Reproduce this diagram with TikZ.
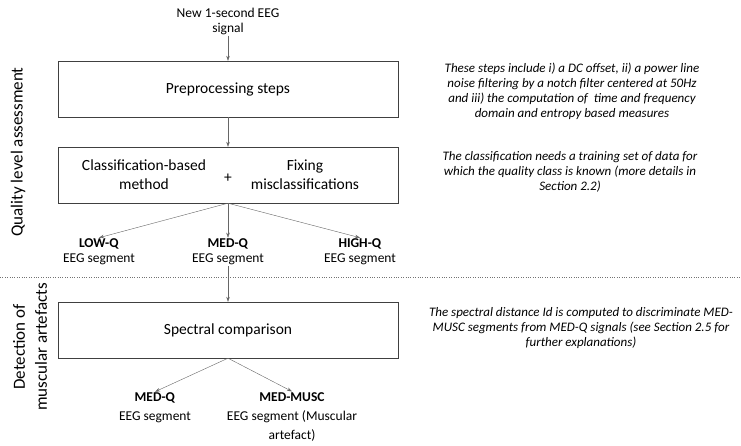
\documentclass[tikz,border=0pt]{standalone}
\usepackage{fontspec}
\setmainfont{Carlito}
\usetikzlibrary{arrows.meta, positioning}

\tikzset{
	stepbox/.style = {draw = black!75, minimum width = 340pt, minimum height = 56pt, inner sep = 0pt, font = \fontsize{15.5}{19}\selectfont},
	outcome/.style = {align = center, inner sep = 1pt, font = \fontsize{13.5}{15}\selectfont},
	note/.style = {align = center, inner sep = 0pt, font = \fontsize{13}{15}\selectfont\itshape},
	phase/.style = {rotate = 90, align = center, inner sep = 0pt, font = \fontsize{17}{22}\selectfont},
	flow/.style = {draw = black!60, -{Stealth[length = 5pt, width = 3.5pt]}}
}

\begin{document}
\begin{tikzpicture}[x = 1pt, y = -1pt]
	\useasboundingbox (0,0) rectangle (741,445);

	% phases
	\node[phase] (quality) at (18,152) {Quality level assessment};
	\node[phase] (muscle) at (30,347) {Detection of\\muscular artefacts};
	\draw[dotted, black!55] (0,277) -- (741,277);

	% quality level assessment
	\node[outcome] (input) at (228,21) {New 1-second EEG\\signal};
	\node[stepbox] (prep) at (228,89) {Preprocessing steps};
	\node[stepbox] (classif) at (228,175) {};
	\node[align = center, font = \fontsize{15.5}{19}\selectfont] (method) at (144,175) {Classification-based\\method};
	\node[font = \fontsize{15.5}{19}\selectfont] (plus) at (228,178) {+};
	\node[align = center, font = \fontsize{15.5}{19}\selectfont] (fixing) at (305,175) {Fixing\\misclassifications};

	\node[outcome] (lowq) at (99,252) {\textbf{LOW-Q}\\EEG segment};
	\node[outcome] (medq) at (228,252) {\textbf{MED-Q}\\EEG segment};
	\node[outcome] (highq) at (360,252) {\textbf{HIGH-Q}\\EEG segment};

	% detection of muscular artefacts
	\node[stepbox] (spectral) at (228,330) {Spectral comparison};
	\node[outcome, font = \fontsize{13.5}{19}\selectfont] (medq2) at (155,408) {\textbf{MED-Q}\\EEG segment};
	\node[outcome, font = \fontsize{13.5}{19}\selectfont] (medmusc) at (292,417) {\textbf{MED-MUSC}\\EEG segment (Muscular\\artefact)};

	\begin{scope}[flow]
		\draw (input) -- (prep);
		\draw (prep) -- (classif);
		\draw (classif.south) -- (lowq.north);
		\draw (classif.south) -- (medq.north);
		\draw (classif.south) -- (highq.north);
		\draw (medq) -- (spectral);
		\draw (spectral.south) -- (medq2.north);
		\draw (spectral.south) -- (medmusc.north);
	\end{scope}

	% notes
	\node[note] (prepnote) at (572,91) {These steps include i) a DC offset, ii) a power line\\noise filtering by a notch filter centered at 50Hz\\and iii) the computation of \ time and frequency\\domain and entropy based measures};
	\node[note] (classifnote) at (570,172) {The classification needs a training set of data for\\which the quality class is known (more details in\\Section 2.2)};
	\node[note] (spectralnote) at (581,328) {The spectral distance Id is computed to discriminate MED-\\MUSC segments from MED-Q signals (see Section 2.5 for\\further explanations)};
\end{tikzpicture}
\end{document}
